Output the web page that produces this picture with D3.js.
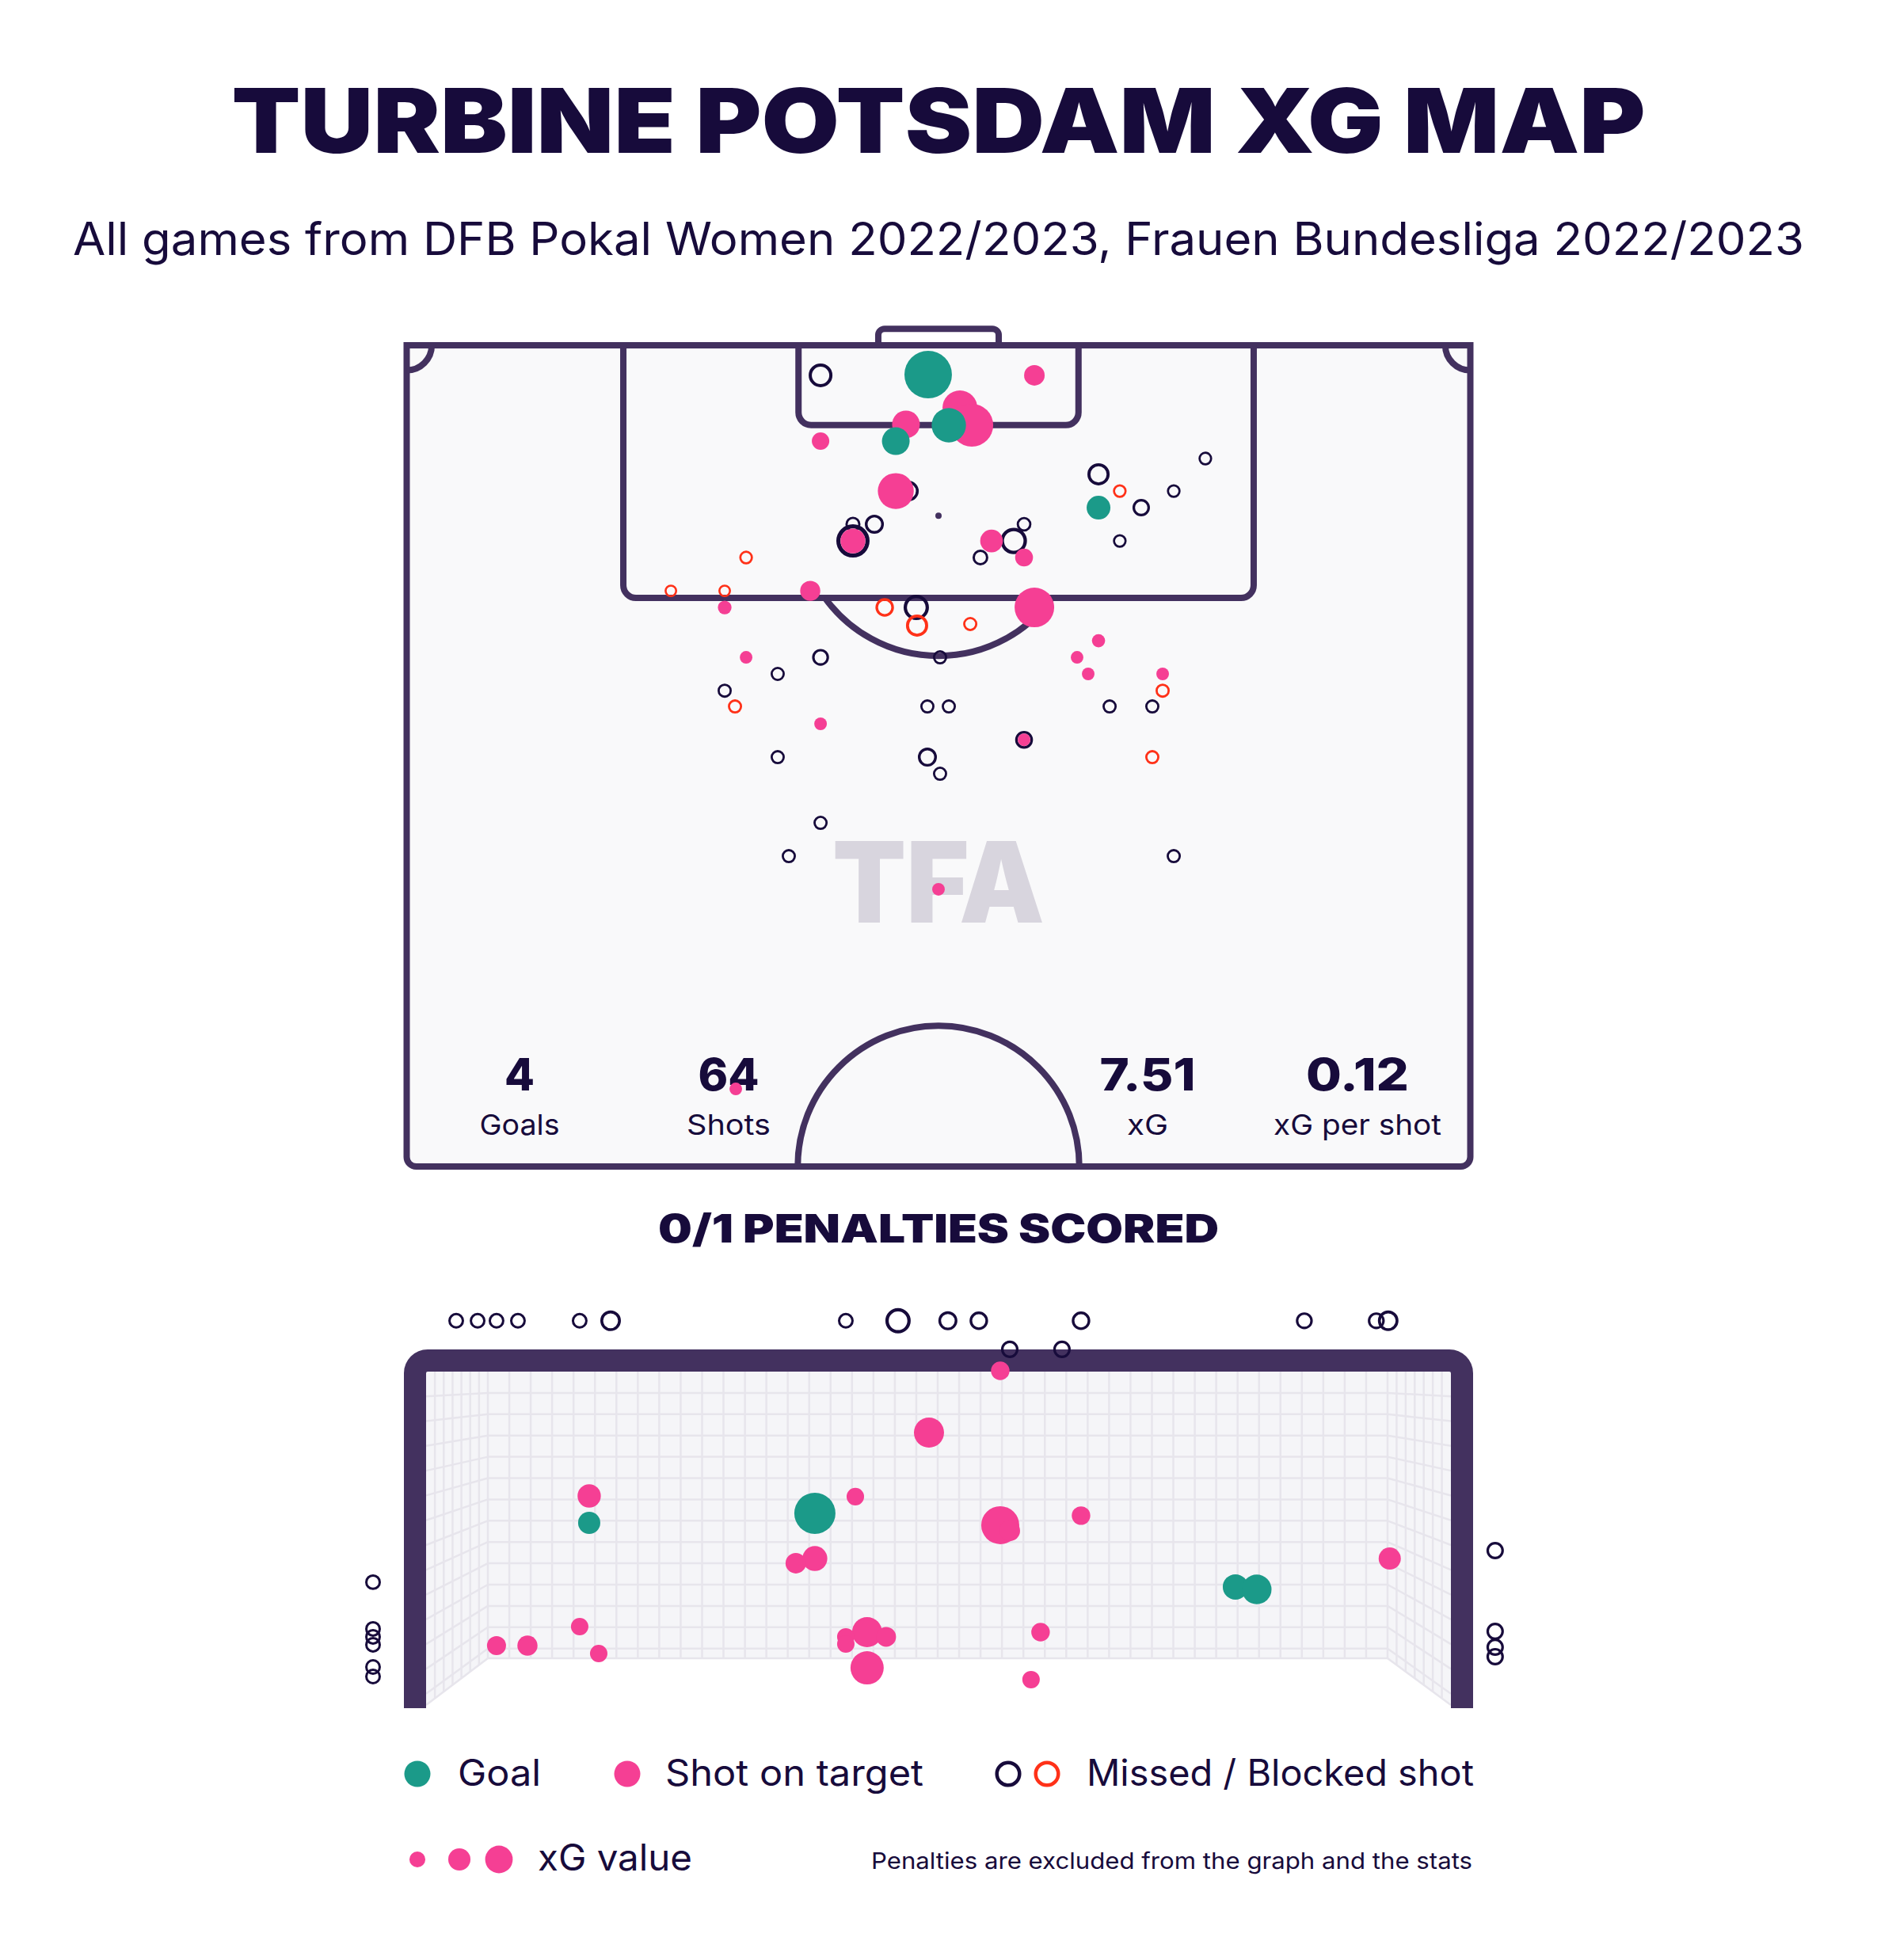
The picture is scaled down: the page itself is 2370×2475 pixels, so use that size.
<!DOCTYPE html>
<html>
<head>
<meta charset="utf-8">
<script src="https://cdn.jsdelivr.net/npm/d3@7"></script>
<style>
  body { margin: 0; background: #ffffff; }
  text { font-family: Inter, 'Noto Sans', sans-serif; }
</style>
</head>
<body>
<svg id="chart"></svg>
<script>
// ---- data ----
// pitch shots: x across the pitch (m, 0-68), y distance from goal line (m)
const shotX = [26.46, 33.34, 40.13, 31.92, 31.27, 35.37, 36.13, 34.66, 26.46, 31.27,
  32.08, 28.53, 29.90, 28.53, 28.53, 21.70, 16.89, 20.33, 25.80, 20.33,
  30.56, 32.58, 32.63, 44.23, 45.59, 44.23, 46.96, 49.04, 51.06, 45.59,
  39.47, 38.81, 37.39, 36.68, 39.47, 40.13, 36.03, 21.70, 26.46, 23.72,
  20.33, 20.99, 26.46, 23.72, 33.29, 33.29, 34.10, 34.10, 26.46, 24.43,
  34.00, 44.23, 42.86, 43.57, 48.33, 48.33, 34.66, 44.94, 47.67, 39.47,
  39.47, 47.67, 49.04, 21.04];
const shotY = [1.92, 1.87, 1.92, 5.06, 6.13, 4.00, 5.11, 5.11, 6.13, 9.32,
  9.32, 11.44, 11.44, 12.51, 12.51, 13.57, 15.70, 15.70, 15.70, 16.76,
  16.76, 16.76, 17.92, 8.25, 9.32, 10.38, 10.38, 9.32, 7.24, 12.51,
  11.44, 12.51, 12.51, 13.57, 13.57, 16.76, 17.82, 19.95, 19.95, 21.01,
  22.08, 23.09, 24.20, 26.33, 23.09, 26.33, 27.39, 19.95, 30.53, 32.66,
  34.78, 18.89, 19.95, 21.01, 21.01, 22.08, 23.09, 23.09, 23.09, 25.22,
  25.22, 26.33, 32.66, 47.54];
const shotXG = [0.156, 0.623, 0.117, 0.212, 0.212, 0.335, 0.505, 0.326, 0.084, 0.357,
  0.117, 0.063, 0.100, 0.305, 0.171, 0.052, 0.044, 0.044, 0.112, 0.052,
  0.095, 0.177, 0.136, 0.136, 0.052, 0.156, 0.084, 0.052, 0.052, 0.052,
  0.060, 0.193, 0.142, 0.069, 0.088, 0.433, 0.056, 0.044, 0.079, 0.056,
  0.056, 0.056, 0.044, 0.056, 0.056, 0.100, 0.056, 0.056, 0.056, 0.056,
  0.044, 0.048, 0.044, 0.044, 0.044, 0.056, 0.056, 0.056, 0.056, 0.088,
  0.044, 0.056, 0.056, 0.044];
const shotType = ['M', 'G', 'T', 'T', 'G', 'T', 'T', 'G', 'T', 'T',
  'M', 'M', 'M', 'M', 'T', 'B', 'B', 'B', 'T', 'T',
  'B', 'M', 'B', 'M', 'B', 'G', 'M', 'M', 'M', 'M',
  'M', 'M', 'T', 'M', 'T', 'T', 'B', 'T', 'M', 'M',
  'M', 'B', 'T', 'M', 'M', 'M', 'M', 'M', 'M', 'M',
  'T', 'T', 'T', 'T', 'T', 'B', 'M', 'M', 'M', 'M',
  'T', 'B', 'M', 'T'];

// goal mouth shots: x from left post (m, 0-7.32), y height (m, 0-2.44)
const goalShotX = [1.165, 2.777, 5.781, 5.933,
  1.165, 1.097, 0.503, 0.724, 1.233, 4.101, 3.592, 3.066, 4.101, 4.169, 4.678,
  2.777, 2.641, 3.150, 2.998, 2.998, 3.286, 3.150, 4.389, 4.321, 6.883,
  0.215, 0.368, 0.503, 0.656, 1.097, 1.318, 2.998, 3.371, 3.727, 3.948, 4.678,
  6.273, 6.787, 6.872, 4.169, 4.542,
  -0.379, -0.379, -0.379, -0.379, -0.379, -0.379,
  7.636, 7.636, 7.636, 7.636];
const goalShotY = [1.333, 1.403, 0.864, 0.846,
  1.530, 0.574, 0.435, 0.435, 0.377, 2.446, 1.994, 1.525, 1.316, 1.275, 1.386,
  1.072, 1.038, 0.533, 0.499, 0.446, 0.499, 0.272, 0.533, 0.186, 1.072,
  2.812, 2.812, 2.812, 2.812, 2.812, 2.812, 2.812, 2.812, 2.812, 2.812, 2.812,
  2.812, 2.812, 2.812, 2.603, 2.603,
  0.899, 0.557, 0.499, 0.441, 0.278, 0.209,
  1.130, 0.539, 0.423, 0.354];
const goalShotXG = [0.136, 0.468, 0.177, 0.242,
  0.150, 0.084, 0.100, 0.112, 0.084, 0.095, 0.250, 0.084, 0.399, 0.117, 0.095,
  0.171, 0.117, 0.250, 0.084, 0.084, 0.108, 0.305, 0.095, 0.084, 0.136,
  0.069, 0.069, 0.069, 0.069, 0.069, 0.117, 0.069, 0.177, 0.100, 0.095, 0.095,
  0.079, 0.079, 0.117, 0.084, 0.084,
  0.069, 0.069, 0.069, 0.069, 0.069, 0.069,
  0.084, 0.084, 0.084, 0.084];
const goalShotType = ['G', 'G', 'G', 'G',
  'T', 'T', 'T', 'T', 'T', 'T', 'T', 'T', 'T', 'T', 'T',
  'T', 'T', 'T', 'T', 'T', 'T', 'T', 'T', 'T', 'T',
  'M', 'M', 'M', 'M', 'M', 'M', 'M', 'M', 'M', 'M', 'M',
  'M', 'M', 'M', 'M', 'M',
  'M', 'M', 'M', 'M', 'M', 'M',
  'M', 'M', 'M', 'M'];

const statValues = ['4', '64', '7.51', '0.12'];
const statLabels = ['Goals', 'Shots', 'xG', 'xG per shot'];
const legendLabels = ['Goal', 'Shot on target', 'Missed / Blocked shot'];
const legendXG = [0.07, 0.136, 0.21];

// ---- layout ----
const width = 2370;
const height = 2475;
const ink = '#170b3b';
const lineCol = '#43315f';
const colors = { G: '#1b9a89', T: '#f53f94', M: '#170b3b', B: '#ff3118' };
const drawOrder = { M: 0, B: 1, T: 2, G: 3 };

const svg = d3.select('#chart')
  .attr('width', width)
  .attr('height', height);

// titles
svg.append('text')
  .attr('x', width / 2).attr('y', 193)
  .attr('text-anchor', 'middle')
  .attr('font-size', 113).attr('font-weight', 900)
  .attr('textLength', 1785).attr('lengthAdjust', 'spacingAndGlyphs')
  .attr('fill', ink)
  .text('TURBINE POTSDAM XG MAP');

svg.append('text')
  .attr('x', width / 2).attr('y', 322)
  .attr('text-anchor', 'middle')
  .attr('font-size', 57).attr('font-weight', 400)
  .attr('textLength', 2186).attr('lengthAdjust', 'spacingAndGlyphs')
  .attr('fill', ink)
  .text('All games from DFB Pokal Women 2022/2023, Frauen Bundesliga 2022/2023');

// ---- pitch ----
const x = d3.scaleLinear().domain([0, 68]).range([513.5, 1856.5]);
const y = d3.scaleLinear().domain([0, 52.5]).range([436, 1473]);
const r = d3.scaleSqrt().domain([0, 1]).range([0, 38]);
const mid = 34;

const pitch = svg.append('g')
  .attr('fill', 'none')
  .attr('stroke', lineCol)
  .attr('stroke-width', 8);

// rectangle hanging from the goal line with rounded bottom corners
function boxPath(halfW, depth, rad) {
  const x0 = x(mid - halfW), x1 = x(mid + halfW), y0 = y(0), y1 = y(depth);
  return `M${x0},${y0} L${x0},${y1 - rad} A${rad},${rad} 0 0 0 ${x0 + rad},${y1}` +
    ` L${x1 - rad},${y1} A${rad},${rad} 0 0 0 ${x1},${y1 - rad} L${x1},${y0}`;
}

const pr = 12;
pitch.append('path')
  .attr('fill', '#f9f9fa')
  .attr('d', `M${x(0)},${y(0)} L${x(68)},${y(0)} L${x(68)},${y(52.5) - pr}` +
    ` A${pr},${pr} 0 0 1 ${x(68) - pr},${y(52.5)} L${x(0) + pr},${y(52.5)}` +
    ` A${pr},${pr} 0 0 1 ${x(0)},${y(52.5) - pr} Z`);

// goal behind the line
const gr = 8;
pitch.append('path')
  .attr('d', `M${x(mid - 3.85)},${y(0)} L${x(mid - 3.85)},${y(-1.05) + gr}` +
    ` A${gr},${gr} 0 0 1 ${x(mid - 3.85) + gr},${y(-1.05)} L${x(mid + 3.85) - gr},${y(-1.05)}` +
    ` A${gr},${gr} 0 0 1 ${x(mid + 3.85)},${y(-1.05) + gr} L${x(mid + 3.85)},${y(0)}`);

pitch.append('path').attr('d', boxPath(20.15, 16.15, 16));
pitch.append('path').attr('d', boxPath(8.95, 5.1, 16));

// corner arcs
const cr = x(1.6) - x(0);
pitch.append('path')
  .attr('d', `M${x(0) + cr},${y(0)} A${cr},${cr} 0 0 1 ${x(0)},${y(0) + cr}` +
    ` M${x(68) - cr},${y(0)} A${cr},${cr} 0 0 0 ${x(68)},${y(0) + cr}`);

// penalty arc and spot
const spotY = y(10.9);
const arcR = x(8.96) - x(0);
const dy = y(16.15) - spotY;
const alpha = Math.asin(dy / arcR);
const arc = d3.path();
arc.arc(x(mid), spotY, arcR, Math.PI - alpha, alpha, true);
pitch.append('path').attr('d', arc.toString());

svg.append('circle')
  .attr('cx', x(mid)).attr('cy', spotY).attr('r', 4)
  .attr('fill', lineCol);

// centre circle at the halfway line
const cc = d3.path();
cc.arc(x(mid), y(52.5), x(9.0) - x(0), Math.PI, 2 * Math.PI, false);
pitch.append('path').attr('d', cc.toString());

// watermark
svg.append('text')
  .attr('x', 1051).attr('y', 1165)
  .attr('font-size', 142).attr('font-weight', 900)
  .attr('textLength', 268).attr('lengthAdjust', 'spacingAndGlyphs')
  .attr('fill', '#d8d5de')
  .text('TFA');

// stats
const statX = [656, 920, 1449, 1714];
const statW = [38, 77, 121, 130];
const statLabelW = [101, 106, 52, 212];
const stats = svg.append('g').attr('fill', ink).attr('text-anchor', 'middle');
stats.selectAll('text.value')
  .data(statValues)
  .join('text')
  .attr('class', 'value')
  .attr('x', (d, i) => statX[i]).attr('y', 1377)
  .attr('font-size', 56).attr('font-weight', 800)
  .attr('textLength', (d, i) => statW[i]).attr('lengthAdjust', 'spacingAndGlyphs')
  .text(d => d);
stats.selectAll('text.label')
  .data(statLabels)
  .join('text')
  .attr('class', 'label')
  .attr('x', (d, i) => statX[i]).attr('y', 1433)
  .attr('font-size', 36)
  .attr('textLength', (d, i) => statLabelW[i]).attr('lengthAdjust', 'spacingAndGlyphs')
  .text(d => d);

// shot markers (open rings for missed / blocked, filled otherwise)
function drawShots(g, data, sx, sy) {
  data.sort((a, b) => drawOrder[a.type] - drawOrder[b.type]);
  g.selectAll('circle')
    .data(data)
    .join('circle')
    .each(function (d) {
      const rr = r(d.xg);
      const open = d.type === 'M' || d.type === 'B';
      const sw = 1 + 0.2 * rr;
      d3.select(this)
        .attr('cx', sx(d.x)).attr('cy', sy(d.y))
        .attr('r', open ? rr - sw / 2 : rr)
        .attr('fill', open ? 'none' : colors[d.type])
        .attr('stroke', open ? colors[d.type] : 'none')
        .attr('stroke-width', open ? sw : 0);
    });
}

const pitchShots = shotX.map((v, i) => ({ x: v, y: shotY[i], xg: shotXG[i], type: shotType[i] }));
drawShots(svg.append('g'), pitchShots, x, y);

// penalties heading
svg.append('text')
  .attr('x', width / 2).attr('y', 1569)
  .attr('text-anchor', 'middle')
  .attr('font-size', 50).attr('font-weight', 900)
  .attr('textLength', 708).attr('lengthAdjust', 'spacingAndGlyphs')
  .attr('fill', ink)
  .text('0/1 PENALTIES SCORED');

// ---- goal mouth ----
const gx = d3.scaleLinear().domain([0, 7.32]).range([538, 1832]);
const gy = d3.scaleLinear().domain([0, 2.44]).range([2153, 1732]);
const net = svg.append('g');
const netTop = gy(2.44), ground = gy(0);
const backL = 616, backR = 1752, backB = 2094;
const netLine = '#e7e5ec';
const netFill = '#f5f5f8';

net.append('rect')
  .attr('x', backL).attr('y', netTop)
  .attr('width', backR - backL).attr('height', backB - netTop)
  .attr('fill', netFill);
net.append('polygon')
  .attr('points', [[gx(0), netTop], [backL, netTop], [backL, backB], [gx(0), ground]].join(' '))
  .attr('fill', netFill);
net.append('polygon')
  .attr('points', [[gx(7.32), netTop], [backR, netTop], [backR, backB], [gx(7.32), ground]].join(' '))
  .attr('fill', netFill);

const netG = net.append('g').attr('stroke', netLine).attr('stroke-width', 2.5);
const cols = d3.range(43).map(k => backL + k * (backR - backL) / 42);
netG.selectAll('line.v')
  .data(cols)
  .join('line')
  .attr('class', 'v')
  .attr('x1', d => d).attr('x2', d => d)
  .attr('y1', netTop).attr('y2', backB);
const rows = d3.range(1, 14).map(k => netTop + k * 26.9).concat([backB]);
const stretch = (ground - netTop) / (backB - netTop);
netG.selectAll('line.h')
  .data(rows)
  .join('line')
  .attr('class', 'h')
  .attr('x1', backL).attr('x2', backR)
  .attr('y1', d => d).attr('y2', d => d);
// side panels: diagonals towards the posts
[[backL, gx(0), 'l'], [backR, gx(7.32), 'r']].forEach(([bx, px, side]) => {
  netG.selectAll('line.d' + side)
    .data(rows)
    .join('line')
    .attr('class', 'd' + side)
    .attr('x1', bx).attr('y1', d => d)
    .attr('x2', px).attr('y2', d => netTop + (d - netTop) * stretch);
  const sideCols = d3.range(1, 7).map(j => px + (bx - px) * j / 7);
  netG.selectAll('line.s' + side)
    .data(sideCols)
    .join('line')
    .attr('class', 's' + side)
    .attr('x1', d => d).attr('x2', d => d)
    .attr('y1', netTop)
    .attr('y2', d => ground + (d - px) / (bx - px) * (backB - ground));
});

// frame
const fr = 16;
const fl = 524, frt = 1718, frr = 1846, fb = 2157;
svg.append('path')
  .attr('fill', 'none').attr('stroke', lineCol).attr('stroke-width', 28)
  .attr('d', `M${fl},${fb} L${fl},${frt + fr} A${fr},${fr} 0 0 1 ${fl + fr},${frt}` +
    ` L${frr - fr},${frt} A${fr},${fr} 0 0 1 ${frr},${frt + fr} L${frr},${fb}`);

const goalShots = goalShotX.map((v, i) => ({ x: v, y: goalShotY[i], xg: goalShotXG[i], type: goalShotType[i] }));
drawShots(svg.append('g'), goalShots, gx, gy);

// ---- legend ----
const legend = svg.append('g');
const row1 = 2240;
legend.append('circle').attr('cx', 527).attr('cy', row1).attr('r', 16.5).attr('fill', colors.G);
legend.append('circle').attr('cx', 792).attr('cy', row1).attr('r', 16.5).attr('fill', colors.T);
legend.append('circle').attr('cx', 1273).attr('cy', row1).attr('r', 14.3)
  .attr('fill', 'none').attr('stroke', colors.M).attr('stroke-width', 4.5);
legend.append('circle').attr('cx', 1322).attr('cy', row1).attr('r', 14.3)
  .attr('fill', 'none').attr('stroke', colors.B).attr('stroke-width', 4.5);

const legendTextX = [578, 840, 1372];
const legendTextW = [105, 326, 489];
legend.selectAll('text.item')
  .data(legendLabels)
  .join('text')
  .attr('class', 'item')
  .attr('x', (d, i) => legendTextX[i]).attr('y', 2255)
  .attr('font-size', 46).attr('fill', ink)
  .attr('textLength', (d, i) => legendTextW[i]).attr('lengthAdjust', 'spacingAndGlyphs')
  .text(d => d);

const row2 = 2348;
const sizeX = [527, 580, 630];
legend.selectAll('circle.size')
  .data(legendXG)
  .join('circle')
  .attr('class', 'size')
  .attr('cx', (d, i) => sizeX[i]).attr('cy', row2)
  .attr('r', d => r(d))
  .attr('fill', colors.T);
legend.append('text')
  .attr('x', 679).attr('y', 2362)
  .attr('font-size', 46).attr('fill', ink)
  .attr('textLength', 195).attr('lengthAdjust', 'spacingAndGlyphs')
  .text('xG value');
legend.append('text')
  .attr('x', 1859).attr('y', 2360)
  .attr('text-anchor', 'end')
  .attr('font-size', 29).attr('fill', ink)
  .attr('textLength', 759).attr('lengthAdjust', 'spacingAndGlyphs')
  .text('Penalties are excluded from the graph and the stats');
</script>
</body>
</html>
